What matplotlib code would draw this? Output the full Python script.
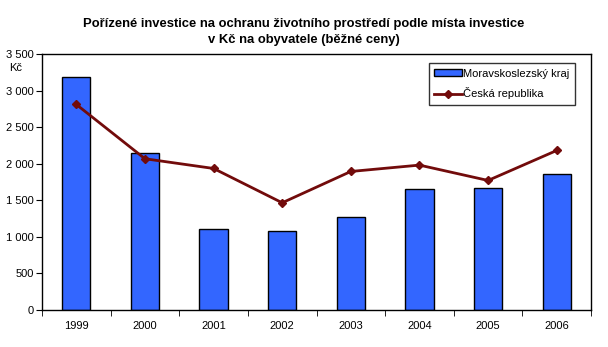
import numpy as np
import matplotlib
matplotlib.use("Agg")
from matplotlib import pyplot as plt
from matplotlib.ticker import FuncFormatter, FixedLocator

years = ["1999", "2000", "2001", "2002", "2003", "2004", "2005", "2006"]
kraj = [3180, 2140, 1112, 1075, 1266, 1648, 1662, 1858]
cr = [2810, 2068, 1935, 1466, 1894, 1981, 1771, 2181]

plt.rcParams['font.family'] = ['Liberation Sans', 'DejaVu Sans']

fig = plt.figure(figsize=(6.08, 3.47), dpi=100)
# axes box in pixels: left 42, right 591, top 54, bottom 310
ax = fig.add_axes([42 / 608, 1 - 310 / 347, (591 - 42) / 608, (310 - 54) / 347])

x = np.arange(len(years))
bars = ax.bar(x, kraj, width=0.41, color="#3366FF", edgecolor="black", linewidth=1.0,
              label="Moravskoslezský kraj", zorder=2)
line, = ax.plot(x, cr, color="#720B0B", linewidth=2, marker="D", markersize=4,
                label="Česká republika", zorder=3)

ax.set_xlim(-0.5, len(years) - 0.5)
ax.set_ylim(0, 3500)
ax.set_yticks(np.arange(0, 3501, 500))
ax.yaxis.set_major_formatter(FuncFormatter(lambda v, p: f"{int(v):,}".replace(",", " ")))
ax.set_xticks(x)
ax.set_xticklabels(years)
ax.xaxis.set_minor_locator(FixedLocator(np.arange(-0.5, len(years), 1.0)))
ax.tick_params(axis="x", which="major", length=0, pad=8, labelsize=8)
ax.tick_params(axis="x", which="minor", length=4, direction="out")
ax.tick_params(axis="y", length=4, direction="out", labelsize=8, pad=2)
for s in ax.spines.values():
    s.set_linewidth(1.0)

fig.text(304 / 608, 1 - 27 / 347,
         "Pořízené investice na ochranu životního prostředí podle místa investice",
         ha="center", va="baseline", fontsize=9.4, fontweight="bold")
fig.text(304 / 608, 1 - 43.5 / 347, "v Kč na obyvatele (běžné ceny)",
         ha="center", va="baseline", fontsize=9.4, fontweight="bold")
fig.text(16 / 608, 1 - 68 / 347, "Kč", ha="center", va="center", fontsize=8)

leg = ax.legend([bars, line], ["Moravskoslezský kraj", "Česká republika"],
                loc="upper right", bbox_to_anchor=(0.971, 0.965), fontsize=8,
                frameon=True, fancybox=False, edgecolor="black",
                handlelength=2.5, handleheight=0.5, handletextpad=0.1,
                borderpad=0.5, labelspacing=0.8, borderaxespad=0)
leg.get_frame().set_linewidth(1.0)

fig.savefig("out.png", dpi=100)
